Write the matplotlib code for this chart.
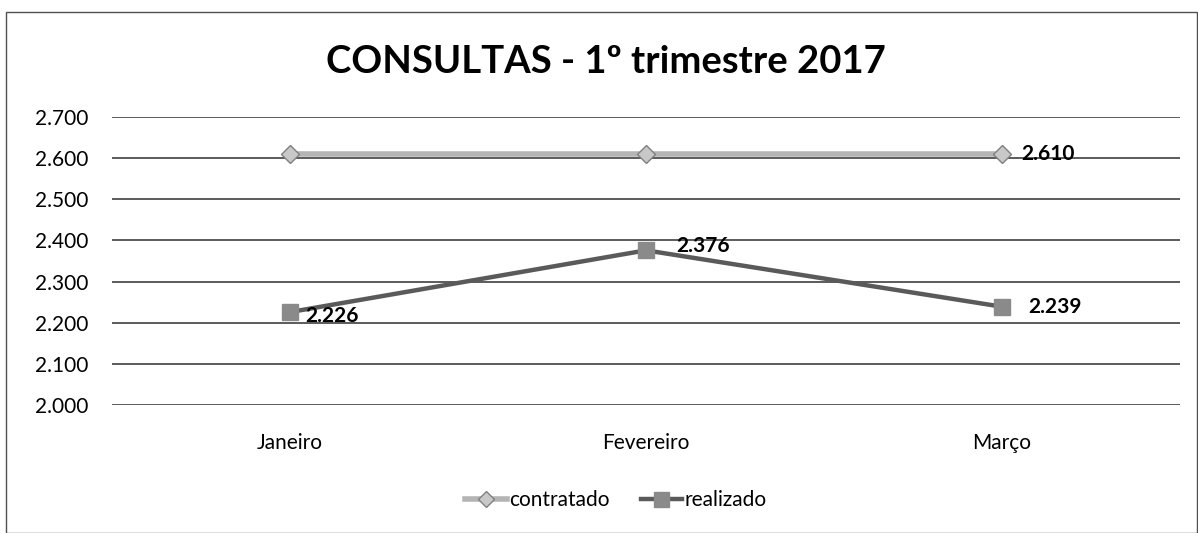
import matplotlib.pyplot as plt
from matplotlib.ticker import FuncFormatter
from matplotlib.patches import Rectangle

plt.rcParams['font.family'] = ['Lato', 'DejaVu Sans']

meses = ['Janeiro', 'Fevereiro', 'Março']
contratado = [2610, 2610, 2610]
realizado = [2226, 2376, 2239]

fig = plt.figure(figsize=(11.98, 5.33), dpi=100)
ax = fig.add_axes([0.0935, 0.240, 0.8915, 0.5405])

x = range(len(meses))
ax.plot(x, contratado, color='#b4b4b4', lw=4, marker='D', ms=9,
        mfc='#c8c8c8', mec='#808080', mew=1, label='contratado', zorder=3)
ax.plot(x, realizado, color='#5a5a5a', lw=3.2, marker='s', ms=12,
        mfc='#8a8a8a', mec='#8a8a8a', label='realizado', zorder=3)

# rótulos
ax.annotate('2.610', (2, contratado[2]), xytext=(14, 0), textcoords='offset points',
            va='center', ha='left', fontsize=15, fontweight='bold')
offs = [(11, -3), (22, 3), (19, 0)]
for i, v in enumerate(realizado):
    ax.annotate(f'{v:,}'.replace(',', '.'), (i, v), xytext=offs[i], textcoords='offset points',
                va='center', ha='left', fontsize=15, fontweight='bold')

ax.set_xlim(-0.5, 2.5)
ax.set_ylim(2000, 2700)
ax.set_yticks(range(2000, 2701, 100))
ax.yaxis.set_major_formatter(FuncFormatter(lambda v, p: f'{int(v):,}'.replace(',', '.')))
ax.set_xticks(list(x))
ax.set_xticklabels(meses)
ax.tick_params(length=0, labelsize=15, pad=20)
ax.tick_params(axis='y', pad=17)
ax.grid(axis='y', color='#404040', lw=1.2)
ax.set_axisbelow(True)
for s in ax.spines.values():
    s.set_visible(False)

fig.text(0.506, 0.883, 'CONSULTAS - 1º trimestre 2017', ha='center', va='center',
         fontsize=27.5, fontweight='bold')
fig.legend(loc='center', bbox_to_anchor=(0.514, 0.062), ncol=2, frameon=False,
           fontsize=15, handlelength=2.0, handletextpad=0.1, columnspacing=1.5,
           markerscale=0.9)

fig.patches.append(Rectangle((0.005, 0.0), 0.994, 0.978, transform=fig.transFigure,
                             fill=False, ec='#505050', lw=1))

plt.savefig('out.png')
